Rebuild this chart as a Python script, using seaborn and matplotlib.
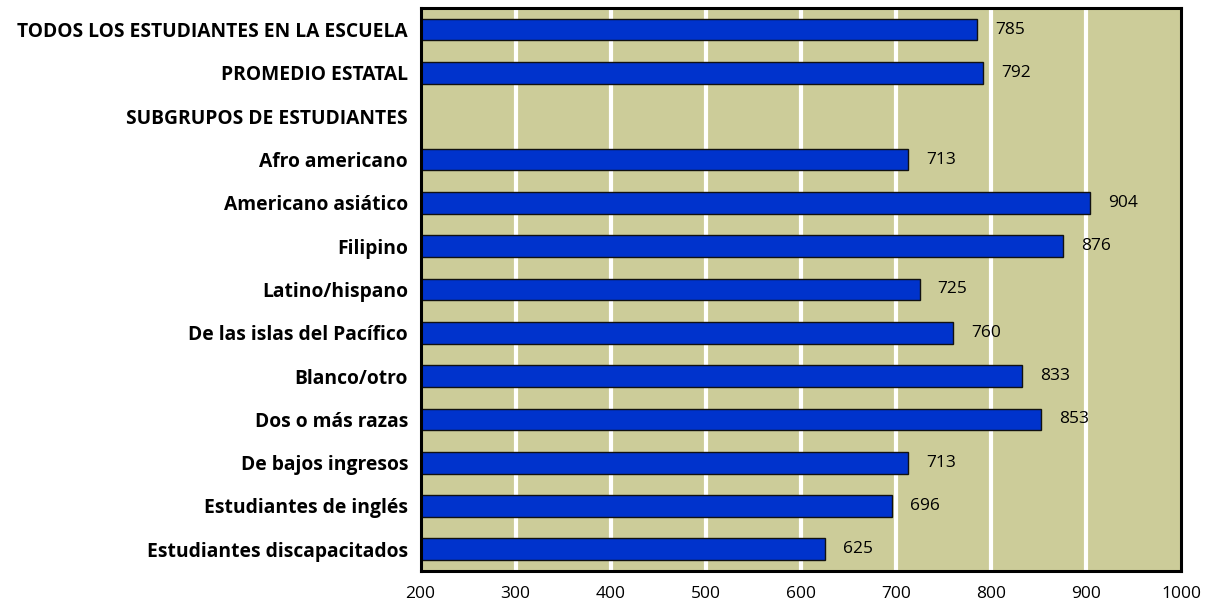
import numpy as np
import pandas as pd
import matplotlib
matplotlib.use("Agg")
import matplotlib.pyplot as plt
import seaborn as sns

categories = [
    "TODOS LOS ESTUDIANTES EN LA ESCUELA",
    "PROMEDIO ESTATAL",
    "SUBGRUPOS DE ESTUDIANTES",
    "Afro americano",
    "Americano asiático",
    "Filipino",
    "Latino/hispano",
    "De las islas del Pacífico",
    "Blanco/otro",
    "Dos o más razas",
    "De bajos ingresos",
    "Estudiantes de inglés",
    "Estudiantes discapacitados",
]
scores = [785, 792, np.nan, 713, 904, 876, 725, 760, 833, 853, 713, 696, 625]
x_ticks = [200, 300, 400, 500, 600, 700, 800, 900, 1000]

df = pd.DataFrame({"grupo": categories, "puntaje": scores})

sns.set_style("white")
plt.rcParams["font.family"] = ["Open Sans", "DejaVu Sans"]
plt.rcParams["text.color"] = "black"
plt.rcParams["xtick.color"] = "black"
plt.rcParams["ytick.color"] = "black"

fig = plt.figure(figsize=(12.12, 6.1), dpi=100)
ax = fig.add_axes([0.347, 0.064, 0.6275, 0.923])
ax.set_facecolor("#CCCC99")

sns.barplot(data=df, x="puntaje", y="grupo", orient="h", color="#0033CC",
            saturation=1, edgecolor="#111111", linewidth=1, width=0.5, ax=ax)

ax.set_xlim(200, 1000)
ax.set_xticks(x_ticks)
ax.set_xticklabels([str(t) for t in x_ticks], fontsize=12.5)
for t in x_ticks[1:-1]:
    ax.axvline(t, color="white", linewidth=3, zorder=0.5)

ax.set_yticks(range(len(categories)))
ax.set_yticklabels(categories, fontsize=13.9, fontweight="bold")
ax.tick_params(axis="y", length=0, pad=9)
ax.tick_params(axis="x", length=0, pad=11)
ax.set_xlabel("")
ax.set_ylabel("")

for i, v in enumerate(scores):
    if not np.isnan(v):
        ax.text(v + 19, i, str(int(v)), va="center", ha="left", fontsize=12.5)

for s in ax.spines.values():
    s.set_visible(True)
    s.set_color("black")
    s.set_linewidth(2.2)

fig.savefig("out.png", dpi=100)
